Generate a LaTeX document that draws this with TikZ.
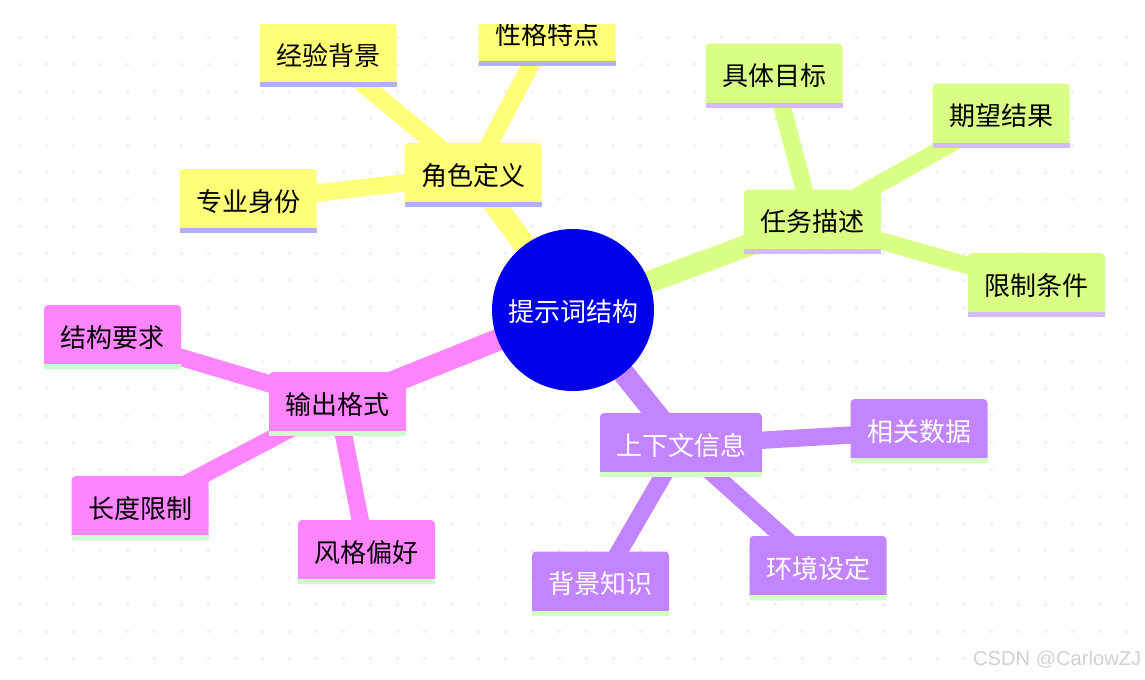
\documentclass[tikz,border=0pt]{standalone}
\usepackage{fontspec}
\setmainfont{Noto Sans CJK SC}
\newfontfamily\markfont{Liberation Sans}
\usetikzlibrary{
    backgrounds,  % edges go behind the boxes
}
\definecolor{rootblue}{HTML}{0000EC}
\definecolor{roleyellow}{HTML}{FFFF78}
\definecolor{rolestrip}{HTML}{B0B0FF}
\definecolor{taskgreen}{HTML}{D9FF85}
\definecolor{taskstrip}{HTML}{D4BBFF}
\definecolor{infopurple}{HTML}{C285FF}
\definecolor{infostrip}{HTML}{D4FFC4}
\definecolor{outpink}{HTML}{FF85FF}
\definecolor{outstrip}{HTML}{CCFFCC}
\tikzset{
    mapbox/.style 2 args={
        rectangle, inner sep=0pt, outer sep=0pt,
        minimum width=102.75pt, minimum height=48pt,
        text height=17.25pt, text depth=2.25pt, font=\fontsize{19.5}{22}\selectfont,
        append after command={\pgfextra{
            \fill[#1, rounded corners=3pt] (\tikzlastnode.south west) rectangle (\tikzlastnode.north east);
            \fill[#2, sharp corners] (\tikzlastnode.south west) rectangle ([yshift=3.75pt]\tikzlastnode.south east);
        }}
    },
    rolebox/.style={mapbox={roleyellow}{rolestrip}},
    taskbox/.style={mapbox={taskgreen}{taskstrip}},
    infobox/.style={mapbox={infopurple}{infostrip}, text=white},
    outbox/.style={mapbox={outpink}{outstrip}},
    rootnode/.style={circle, fill=rootblue, text=white, inner sep=0pt, minimum size=121.5pt,
        text height=18.25pt, text depth=1.75pt, font=\fontsize{19.5}{22}\selectfont},
    trunk/.style={line width=16.5pt},
    branch/.style={line width=13pt},
}
\begin{document}
\begin{tikzpicture}[x=0.75pt, y=-0.75pt]
    \useasboundingbox (0, 0) rectangle (1145, 679);
    \clip (0, 24) rectangle (1145, 679);

    \node[rootnode] (root) at (573, 310) {提示词结构};

    \node[rolebox] (role) at (473, 175) {角色定义};
    \node[rolebox] (r1) at (248, 201) {专业身份};
    \node[rolebox] (r2) at (328, 55) {经验背景};
    \node[rolebox] (r3) at (547, 34) {性格特点};

    \node[taskbox] (task) at (812.5, 221.5) {任务描述};
    \node[taskbox] (t1) at (774, 75.5) {具体目标};
    \node[taskbox] (t2) at (1001, 115.5) {期望结果};
    \node[taskbox] (t3) at (1036.5, 285) {限制条件};

    \node[infobox, minimum width=121.5pt] (info) at (681, 445) {上下文信息};
    \node[infobox] (c1) at (919, 431) {相关数据};
    \node[infobox] (c2) at (818, 568) {环境设定};
    \node[infobox] (c3) at (600.5, 583.5) {背景知识};

    \node[outbox] (out) at (337.5, 404) {输出格式};
    \node[outbox] (o1) at (112.5, 337) {结构要求};
    \node[outbox] (o2) at (140, 508) {长度限制};
    \node[outbox] (o3) at (366.5, 552) {风格偏好};

    \node[text=black!18, inner sep=0pt, font=\markfont\fontsize{15.1}{18}\selectfont, anchor=east] (mark) at (1141.5, 660) {CSDN @CarlowZJ};

    \begin{pgfonlayer}{background}
        \foreach \x in {19, 46, ..., 1145}
            \foreach \y in {37, 64, ..., 679}
                \fill[black!6] (\x-1.5, \y-1.5) rectangle (\x+1.5, \y+1.5);

        \draw[roleyellow, trunk] (root.center) -- (role.center);
        \draw[roleyellow, branch] (role.center) -- (r1.center);
        \draw[roleyellow, branch] (role.center) -- (r2.center);
        \draw[roleyellow, branch] (role.center) -- (r3.center);

        \draw[taskgreen, trunk] (root.center) -- (task.center);
        \draw[taskgreen, branch] (task.center) -- (t1.center);
        \draw[taskgreen, branch] (task.center) -- (t2.center);
        \draw[taskgreen, branch] (task.center) -- (t3.center);

        \draw[infopurple, trunk] (root.center) -- (info.center);
        \draw[infopurple, branch] (info.center) -- (c1.center);
        \draw[infopurple, branch] (info.center) -- (c2.center);
        \draw[infopurple, branch] (info.center) -- (c3.center);

        \draw[outpink, trunk] (root.center) -- (out.center);
        \draw[outpink, branch] (out.center) -- (o1.center);
        \draw[outpink, branch] (out.center) -- (o2.center);
        \draw[outpink, branch] (out.center) -- (o3.center);
    \end{pgfonlayer}
\end{tikzpicture}
\end{document}
